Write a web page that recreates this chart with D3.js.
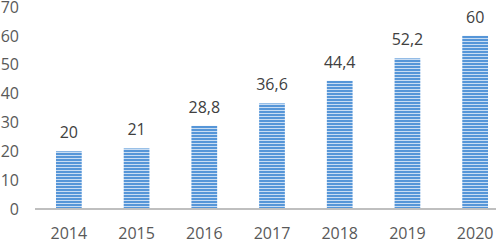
<!DOCTYPE html>
<html>
<head>
<meta charset="utf-8">
<script src="https://cdn.jsdelivr.net/npm/d3@7"></script>
<style>
  html, body { margin: 0; padding: 0; background: #fff; }
  svg { display: block; font-family: "Open Sans", sans-serif; }
</style>
</head>
<body>
<svg id="chart" width="496" height="240"></svg>
<script>
const years = ["2014", "2015", "2016", "2017", "2018", "2019", "2020"];
const values = [20, 21, 28.8, 36.6, 44.4, 52.2, 60];
const yTicks = [0, 10, 20, 30, 40, 50, 60, 70];

const svg = d3.select("#chart");
const textColor = "#595959";
const fmt = d3.formatLocale({ decimal: ",", thousands: " ", grouping: [3], currency: ["", ""] }).format("~g");

// horizontal stripe fill like the original
const defs = svg.append("defs");
const pat = defs.append("pattern")
  .attr("id", "stripes")
  .attr("patternUnits", "userSpaceOnUse")
  .attr("width", 4).attr("height", 3);
pat.append("rect").attr("width", 4).attr("height", 3).attr("fill", "#5696d8");
pat.append("rect").attr("y", 2).attr("width", 4).attr("height", 1).attr("fill", "#c9ddf3");

const x = d3.scaleBand().domain(years).range([35, 509]).paddingInner(0.62).paddingOuter(0.31);
const y = d3.scaleLinear().domain([0, 70]).range([209, 7]);

// y labels (no grid lines)
svg.append("g").selectAll("text").data(yTicks).join("text")
  .attr("x", 19).attr("y", (d) => y(d)).attr("dy", "0.36em")
  .attr("text-anchor", "end").attr("font-size", 16).attr("fill", textColor)
  .text((d) => d);

// bars
svg.append("g").selectAll("rect").data(values).join("rect")
  .attr("x", (d, i) => x(years[i]))
  .attr("y", (d) => y(d))
  .attr("width", x.bandwidth())
  .attr("height", (d) => y(0) - y(d))
  .attr("fill", "url(#stripes)");

// value labels
svg.append("g").selectAll("text").data(values).join("text")
  .attr("x", (d, i) => x(years[i]) + x.bandwidth() / 2)
  .attr("y", (d) => y(d) - 13)
  .attr("text-anchor", "middle").attr("font-size", 16).attr("fill", "#404040")
  .text((d) => fmt(d));

// baseline
svg.append("line")
  .attr("x1", 35).attr("x2", 496)
  .attr("y1", y(0)).attr("y2", y(0))
  .attr("stroke", "#bfbfbf").attr("stroke-width", 2);

// x labels
svg.append("g").selectAll("text").data(years).join("text")
  .attr("x", (d) => x(d) + x.bandwidth() / 2)
  .attr("y", 233).attr("dy", "0.36em")
  .attr("text-anchor", "middle").attr("font-size", 16).attr("fill", textColor)
  .text((d) => d);
</script>
</body>
</html>
